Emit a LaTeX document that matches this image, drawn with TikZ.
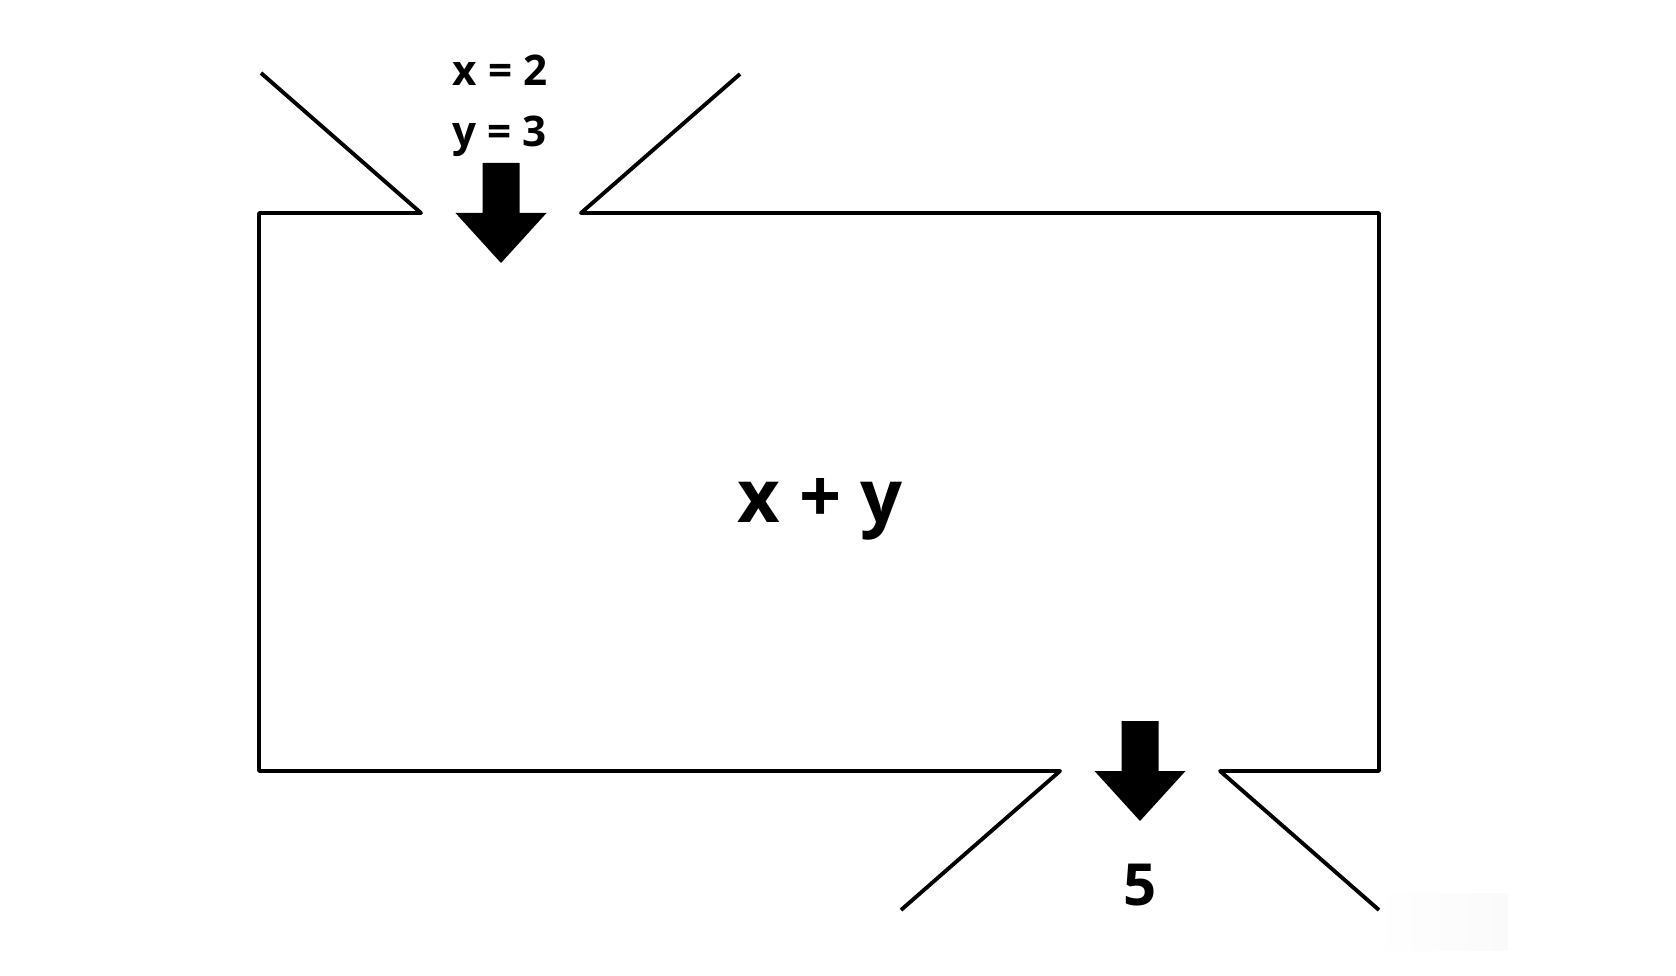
\documentclass[tikz,border=0pt]{standalone}
\usepackage{fontspec}
\setmainfont{Open Sans}
\usetikzlibrary{calc, positioning}

\begin{document}
\begin{tikzpicture}[x=0.01cm, y=-0.01cm, line width=1.1pt, line join=round]
\useasboundingbox (0,0) rectangle (1676,976);
\def\hw{45.5}
\def\sw{18.5}
\def\hh{50}

% faint patch in the lower right
\shade[left color=white, right color=black!2] (1372,893) rectangle (1508,950);

% box corners
\coordinate (TL) at (259,213);
\coordinate (TR) at (1379,213);
\coordinate (BR) at (1379,771);
\coordinate (BL) at (259,771);
% the two openings
\coordinate (A) at (421,213);
\coordinate (B) at (581,213);
\coordinate (C) at (1060,771);
\coordinate (D) at (1220,771);
% funnel ends
\coordinate (P) at (261,73);
\coordinate (Q) at (740,74);
\coordinate (R) at (901,910);
\coordinate (S) at (1379,910);

\draw (P) -- (A) -- (TL) -- (BL) -- (C) -- (R);
\draw (Q) -- (B) -- (TR) -- (BR) -- (D) -- (S);

% arrows in and out
\coordinate (inTip) at (501,263);
\coordinate (outTip) at (1140,821);
\fill (inTip) -- ++(-\hw,-\hh) -- ++({\hw-\sw},0) -- ++(0,-\hh) -- ++({2*\sw},0) -- ++(0,\hh) -- ++({\hw-\sw},0) -- cycle;
\fill (outTip) -- ++(-\hw,-\hh) -- ++({\hw-\sw},0) -- ++(0,-\hh) -- ++({2*\sw},0) -- ++(0,\hh) -- ++({\hw-\sw},0) -- cycle;

\node[anchor=base, font=\bfseries\fontsize{12}{14}\selectfont] (xin) at (500,86) {x = 2};
\node[anchor=base, font=\bfseries\fontsize{12}{14}\selectfont] (yin) at (500,147) {y = 3};
\node[anchor=base, font=\bfseries\fontsize{21}{24}\selectfont] (sum) at (820,522) {x + y};
\node[anchor=base, font=\bfseries\fontsize{16.5}{20}\selectfont] (out) at (1140,905) {5};
\end{tikzpicture}
\end{document}
